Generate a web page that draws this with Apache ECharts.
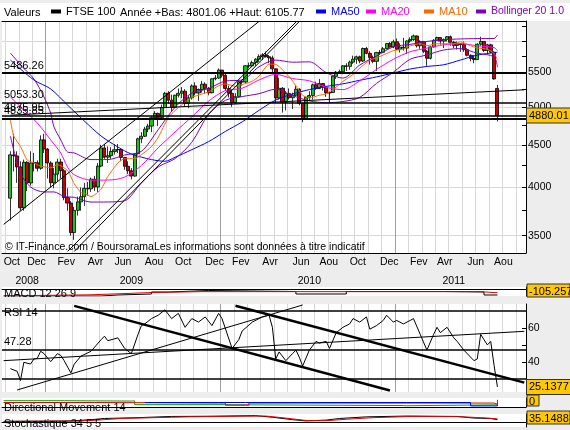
<!DOCTYPE html>
<html>
<head>
<meta charset="utf-8">
<script src="https://cdn.jsdelivr.net/npm/echarts@6/dist/echarts.min.js"></script>
<style>
html, body { margin: 0; padding: 0; background: #ededed; }
#chart { width: 570px; height: 430px; }
</style>
</head>
<body>
<div id="chart"></div>
<script>
var LEAD = 2;            // semaines vides avant la premiere bougie
var NB_SEMAINES = 156;
var POLICE = '"Liberation Sans", Arial, sans-serif';
var MOIS = ['Jan','Fev','Mar','Avr','Mai','Jun','Jul','Aou','Sep','Oct','Nov','Dec'];

// FTSE 100 hebdo a partir du 27/10/2008 : [ouverture, cloture, plus bas, plus haut]
var ftse = [
  [3883,4377,3650,4420],[4377,4364,4180,4640],[4364,4233,4050,4420],[4233,3781,3750,4300],[3781,4288,3750,4320],
  [4288,4049,3960,4300],[4049,4280,4020,4420],[4280,4283,4180,4400],[4283,4217,4180,4310],[4217,4562,4200,4620],
  [4562,4448,4400,4640],[4448,4280,4100,4460],[4280,4052,4000,4300],[4052,4149,3990,4220],[4149,4291,4070,4330],
  [4291,4189,4100,4330],[4189,3889,3860,4210],[3889,3830,3750,3990],[3830,3530,3500,3850],[3530,3754,3460,3790],
  [3754,3843,3700,3900],[3843,3898,3750,4000],[3898,3990,3800,4050],[3990,3984,3910,4060],[3984,4092,3950,4110],
  [4092,4004,3960,4130],[4004,4243,3950,4280],[4243,4461,4230,4500],[4461,4349,4330,4510],[4349,4367,4280,4480],
  [4367,4418,4330,4470],[4418,4439,4380,4510],[4439,4442,4400,4510],[4442,4345,4300,4460],[4345,4241,4200,4350],
  [4241,4189,4150,4300],[4189,4127,4090,4220],[4127,4391,4120,4400],[4391,4576,4380,4590],[4576,4608,4520,4660],
  [4608,4700,4600,4730],[4700,4740,4660,4770],[4740,4851,4660,4870],[4851,4909,4840,4940],[4909,4852,4740,4920],
  [4852,4989,4850,5030],[4989,5190,4980,5210],[5190,5092,5040,5220],[5092,4988,4940,5170],[4988,5162,4990,5170],
  [5162,5190,5130,5260],[5190,5220,5120,5280],[5220,5045,5010,5250],[5045,5125,4980,5160],[5125,5297,5100,5320],
  [5297,5194,5160,5350],[5194,5245,5080,5260],[5245,5322,5200,5370],[5322,5261,5180,5350],[5261,5197,5160,5280],
  [5197,5402,5190,5410],[5402,5413,5380,5460],[5413,5534,5400,5560],[5534,5455,5420,5530],[5455,5260,5230,5480],
  [5260,5189,5130,5300],[5189,5060,5000,5250],[5060,5142,5040,5190],[5142,5358,5130,5370],[5358,5355,5300,5390],
  [5355,5600,5340,5610],[5600,5600,5560,5650],[5600,5650,5580,5680],[5650,5703,5600,5720],[5703,5744,5660,5780],
  [5744,5770,5690,5800],[5770,5743,5730,5825],[5743,5723,5640,5770],[5723,5553,5500,5760],[5553,5123,5050,5560],
  [5123,5262,5100,5420],[5262,5063,4920,5280],[5063,5188,4950,5220],[5188,5126,5100,5260],[5126,5163,4970,5200],
  [5163,5250,5150,5300],[5250,5046,5020,5260],[5046,4838,4790,5060],[4838,5132,4830,5140],[5132,5159,5090,5220],
  [5159,5313,5100,5330],[5313,5258,5240,5360],[5258,5332,5250,5400],[5332,5276,5230,5340],[5276,5195,5140,5300],
  [5195,5201,5060,5210],[5201,5440,5200,5450],[5440,5502,5400,5520],[5502,5509,5480,5540],[5509,5599,5470,5610],
  [5599,5592,5520,5640],[5592,5657,5540,5680],[5657,5703,5630,5760],[5703,5741,5630,5760],[5741,5675,5640,5760],
  [5675,5875,5660,5890],[5875,5796,5780,5900],[5796,5732,5620,5830],[5732,5669,5640,5760],[5669,5808,5520,5820],
  [5808,5812,5770,5850],[5812,5871,5800,5900],[5871,5955,5860,5960],[5955,5900,5890,5980],[5900,5985,5880,6020],
  [5985,5863,5850,6040],[5863,5896,5810,5960],[5896,5881,5840,6050],[5881,5998,5790,6010],[5998,6021,5970,6060],
  [6021,6082,6000,6105],[6082,5919,5890,6090],[5919,5990,5870,6010],[5990,5829,5800,6000],[5829,5718,5600,5850],
  [5718,5900,5700,5910],[5900,6009,5890,6030],[6009,6055,6000,6070],[6055,5996,5940,6060],[5996,6022,5880,6040],
  [6022,6069,5990,6080],[6069,5976,5920,6090],[5976,5925,5880,6000],[5925,5948,5860,5990],[5948,5938,5820,5960],
  [5938,5855,5820,5990],[5855,5765,5750,5880],[5765,5714,5670,5780],[5714,5697,5640,5770],[5697,5945,5690,5960],
  [5945,5990,5920,6070],[5990,5843,5820,5990],[5843,5935,5780,5950],[5935,5815,5800,5950],[5815,5400,5390,5830],
  [5260,4880.01,4801.06,5310]
];

// moyennes et bandes : [semaine, valeur]
var ma50 = [[0,5690],[7,5384],[12,5252],[17,5024],[22,4807],[27,4611],[32,4473],[36,4387],[42,4320],[46,4300],[49,4347],[54,4440],[59,4540],[64,4670],[69,4795],[74,4950],[79,5094],[84,5180],[89,5243],[94,5290],[99,5327],[104,5380],[109,5430],[114,5490],[119,5550],[124,5590],[129,5616],[134,5690],[139,5768],[145,5814]];
var ma20 = [[0,5137],[4,4955],[8,4780],[12,4561],[15,4399],[17,4231],[19,4142],[24,4081],[29,4082],[34,4115],[39,4250],[44,4463],[49,4662],[54,4862],[59,5078],[64,5229],[69,5263],[74,5384],[79,5469],[84,5406],[89,5372],[94,5276],[99,5243],[104,5371],[109,5544],[114,5701],[119,5822],[124,5880],[129,5935],[134,5952],[139,5918],[144,5890],[145,5839]];
var ma10 = [[0,4820],[1,4610],[3,4480],[5,4315],[7,4280],[9,4243],[12,4224],[14,4261],[17,4191],[19,4041],[21,3943],[22,3936],[24,3900],[27,3980],[29,4123],[32,4280],[34,4331],[37,4331],[39,4378],[42,4477],[44,4594],[47,4851],[49,4947],[52,5064],[54,5130],[57,5179],[59,5210],[62,5299],[64,5328],[67,5291],[69,5317],[72,5367],[74,5440],[77,5625],[79,5621],[82,5487],[84,5371],[87,5161],[89,5123],[92,5162],[94,5180],[97,5281],[99,5363],[102,5467],[104,5562],[107,5688],[109,5725],[112,5793],[114,5840],[117,5864],[119,5918],[122,5954],[124,5920],[127,5952],[129,5952],[132,5950],[134,5984],[137,5921],[139,5883],[142,5863],[144,5796],[145,5698]];
var bollHaut = [[0,5800],[4,5560],[7,5400],[10,5137],[12,4910],[13,4727],[15,4561],[17,4412],[19,4400],[24,4320],[29,4320],[34,4375],[39,4420],[44,4693],[49,4992],[54,5192],[59,5258],[64,5369],[69,5383],[74,5584],[79,5689],[84,5656],[89,5662],[94,5496],[99,5413],[104,5611],[109,5754],[114,5901],[119,5942],[124,5990],[129,6020],[134,6032],[139,6038],[144,6040],[145,6099]];
var bollBas = [[0,4610],[3,4163],[6,4005],[10,3950],[13,3950],[16,3900],[19,3892],[24,3841],[29,3842],[34,3855],[39,4050],[44,4233],[49,4332],[54,4532],[59,4898],[64,5089],[69,5143],[74,5184],[79,5249],[84,5156],[89,5082],[94,5056],[99,5073],[104,5131],[109,5334],[114,5501],[119,5702],[124,5770],[129,5850],[134,5872],[139,5798],[144,5740],[145,5579]];

// indicateurs
var macd = [[-2,-450],[23,-450],[27,-383],[32,-317],[42,-183],[47,-83],[59,-150],[85,-317],[100,-150],[129,-183],[141,-383],[145,-383]];
var macdSignal = [[-2,-440],[24,-370],[42,-220],[57,-160],[140,-160],[144,-220],[145,-230]];
var rsi = [[0,36],[2,34.5],[3,28.9],[4,39.8],[6,38.8],[7,41.8],[8,42.2],[9,46.4],[10,45],[12,40.2],[14,45],[15,43.9],[16,40.8],[18,33.5],[19,38.7],[21,43.5],[24,46.4],[27,53.3],[28,55.4],[29,52.7],[32,54.4],[34,48.1],[36,45],[38,56.5],[39,61.7],[40,62.7],[42,65.9],[44,67.9],[46,71.1],[48,65.9],[50,69],[52,60.7],[54,65.9],[56,63.8],[58,66.9],[60,61.7],[62,69],[63,65.9],[66,48.1],[68,53.3],[69,58.5],[72,63.8],[75,66.9],[77,67.9],[78,60.7],[79,41.8],[80,46],[82,40.8],[84,45],[85,47.1],[86,42.9],[87,37.6],[89,47.1],[91,52.3],[92,51.3],[94,52.3],[95,48.1],[97,57.5],[99,60.7],[101,62.7],[102,65.9],[104,63.8],[106,66.9],[107,59.6],[109,61.7],[111,64.8],[112,67.9],[114,63.8],[115,64.8],[117,62.7],[119,64.8],[120,65.9],[122,56.5],[124,47.1],[126,56.5],[127,60.7],[128,57.5],[130,60.7],[132,54.4],[133,52.3],[135,47.1],[138,40.8],[139,41.8],[140,56.5],[141,53.3],[142,50.2],[143,52.3],[144,38],[145,25.1377]];
var dmPlus = [[-2,35],[16,33],[36,34],[37,13],[63,12],[71,8],[117,7],[118,12],[144,12],[145,20]];
var dmMoins = [[-2,25],[24,25],[25,22],[62,22],[64,10],[70,10],[71,22],[127,22],[144,15],[145,40]];
var adx = [[40,25],[62,25],[70,25],[118,25],[137,6],[145,12]];
var stochK = [[-2,10],[18,15],[24,30],[28,45],[38,55],[48,70],[58,72],[73,80],[78,60],[84,30],[88,15],[94,25],[98,45],[106,65],[118,75],[133,70],[138,50],[143,45],[145,30]];
var stochD = [[-2,8],[20,12],[26,25],[33,45],[43,55],[53,65],[68,72],[76,75],[82,50],[88,20],[94,18],[100,35],[108,55],[120,70],[133,68],[140,55],[145,40]];

// niveaux et droites tracees
var niveauxPrix = [[5486.26,'5486.26',2],[5053.30,'5053.30',1.5],[4875.95,'4875.95',1.5],[4835.85,'4835.85',2]];
var droitesPrix = [[[-2,3611],[74,6330],1],[[17,3350],[85,6320],1],[[19,3350],[86,6330],1],[[21,3350],[87,6340],1],[[0,4885],[153,5240],1]];
var niveauxRsi = [[70.6,'',1.5],[47.28,'47.28',1.5],[30.3,'',1.5]];
var droitesRsi = [[[19,73.5],[113,23.0],2.5],[[67,73.6],[153,27.7],2.5],[[2,23.3],[87,74.0],1],[[-2,40.8],[153,58.3],1]];

var prixTicks = [3500,3750,4000,4250,4500,4750,5000,5250,5500,5750,6000,6250];
var prixLabels = [3500,4000,4500,5000,5500];
var prixGrille = [3500,4000,4500,5000,5500,6000];
var rsiTicks = [40,50,60];
var rsiLabels = [40,60];
var anneesLabels = [[7,'2008'],[38,'2009'],[91,'2010'],[134,'2011']];
var lignesAnnee = [13,65,117];

// semaines (lundi) depuis le 13/10/2008
var semaines = [], moisSemaine = [];
var debut = Date.UTC(2008, 9, 13);
for (var k = 0; k < NB_SEMAINES; k++) {
  var d = new Date(debut + k * 7 * 86400000);
  semaines.push(d.getUTCFullYear() + '-' + (d.getUTCMonth() + 1) + '-' + d.getUTCDate());
  moisSemaine.push(d.getUTCMonth());
}
// un libelle tous les deux mois, seulement sur la periode cotee
var etiquettesMois = {};
for (var k = 0; k < LEAD + ftse.length; k++) {
  var m = moisSemaine[k];
  if ((k === 0 || m !== moisSemaine[k - 1]) && m % 2 === 1) etiquettesMois[k] = MOIS[m];
}
var etiquettesAnnee = {};
anneesLabels.forEach(function (a) { etiquettesAnnee[a[0]] = a[1]; });

function cat(arr) {
  return arr.map(function (p) { return [p[0] + LEAD, p[1]]; });
}
function droite(dr) {
  return [{coord: [dr[0][0] + LEAD, dr[0][1]], lineStyle: {color: '#000', width: dr[2], type: 'solid'}},
          {coord: [dr[1][0] + LEAD, dr[1][1]]}];
}
function niveau(n) {
  return {yAxis: n[0], lineStyle: {color: '#000', width: n[2], type: 'solid'},
    label: {show: n[1] !== '', formatter: n[1], position: 'insideStartTop', distance: 2,
      color: '#000', fontSize: 11, fontFamily: POLICE}};
}
function valeurJaune(v, txt) {
  return {yAxis: v, lineStyle: {color: 'transparent', width: 0},
    label: {show: true, position: 'end', distance: 1, formatter: txt, color: '#000',
      fontSize: 11, fontFamily: POLICE, backgroundColor: '#ffc800', borderColor: '#333',
      borderWidth: 1, padding: [2, 2, 1, 2]}};
}
function boite(x, y, w, h, txt) {
  return [
    {type: 'rect', shape: {x: x, y: y, width: w, height: h}, style: {fill: '#ffc800', stroke: '#333', lineWidth: 1}, z: 10},
    {type: 'text', x: x + 2, y: y + h / 2 + 1, z: 11,
      style: {text: txt, fill: '#000', fontSize: 11, fontFamily: POLICE, verticalAlign: 'middle'}}
  ];
}
function texte(x, y, txt, taille) {
  return {type: 'text', x: x, y: y, z: 9,
    style: {text: txt, fill: '#000', fontSize: taille || 11, fontFamily: POLICE, verticalAlign: 'middle'}};
}
function ligneSimple(nom, data, couleur, xi, yi, opts) {
  var s = {name: nom, type: 'line', xAxisIndex: xi, yAxisIndex: yi, data: cat(data), showSymbol: false,
    symbol: 'none', lineStyle: {color: couleur, width: 1}, itemStyle: {color: couleur}, silent: true};
  for (var o in (opts || {})) s[o] = opts[o];
  return s;
}
function entier(v) { return String(Math.round(v)); }

var grilleBase = {left: 2, right: 44, show: true, backgroundColor: '#fff', borderWidth: 0, outerBoundsMode: 'none', containLabel: false};
function grille(top, h) {
  var g = {}; for (var o in grilleBase) g[o] = grilleBase[o];
  g.top = top; g.height = h; return g;
}
function axeX(gi, opts) {
  var a = {type: 'category', gridIndex: gi, data: semaines, boundaryGap: true,
    axisLine: {show: false}, axisTick: {show: false}, axisLabel: {show: false}, splitLine: {show: false}};
  for (var o in (opts || {})) a[o] = opts[o];
  return a;
}
var noir = {show: true, lineStyle: {color: '#000', width: 1}};
var grilleClaire = {show: true, interval: function (i) { return i % 4 === 1 && lignesAnnee.indexOf(i) < 0; }, lineStyle: {color: '#d8d8d8', width: 1}};
var grilleFoncee = {show: true, interval: function (i) { return lignesAnnee.indexOf(i) >= 0; }, lineStyle: {color: '#a0a0a0', width: 1}};

var legendeBase = {top: 6, padding: 0, itemWidth: 10, itemHeight: 4, icon: 'rect', selectedMode: false};
function legende(left, nom, couleur, taille) {
  var l = {}; for (var o in legendeBase) l[o] = legendeBase[o];
  l.left = left;
  l.data = [{name: nom, itemStyle: {color: couleur, borderWidth: 0}}];
  l.textStyle = {fontSize: taille || 11, fontFamily: POLICE, color: nom === 'FTSE 100' ? '#000' : couleur};
  return l;
}

var chart = echarts.init(document.getElementById('chart'), null, {renderer: 'canvas'});
var option = {
  animation: false,
  backgroundColor: '#ededed',
  textStyle: {fontFamily: POLICE},
  legend: [
    legende(51, 'FTSE 100', '#000'),
    legende(316, 'MA50', '#0000ff'),
    legende(366, 'MA20', '#ff00ff'),
    legende(424, 'MA10', '#ff6600'),
    legende(476, 'Bollinger 20 1.0', '#8000c0', 10.5)
  ],
  grid: [grille(21, 232), grille(287, 9), grille(304, 88), grille(398, 9), grille(414, 13)],
  xAxis: [
    axeX(0, {position: 'bottom', axisLine: noir, splitLine: grilleClaire,
      axisLabel: {show: true, interval: function (i) { return etiquettesMois[i] !== undefined; },
        formatter: function (v, i) { return etiquettesMois[i] || ''; },
        align: 'left', margin: 4, fontSize: 10.5, color: '#000', fontFamily: POLICE}}),
    axeX(0, {position: 'bottom',
      axisLabel: {show: true, interval: function (i) { return etiquettesAnnee[i] !== undefined; },
        formatter: function (v, i) { return etiquettesAnnee[i] || ''; },
        margin: 23, fontSize: 10.5, color: '#000', fontFamily: POLICE}}),
    axeX(0, {position: 'top', axisLine: noir, splitLine: grilleFoncee}),
    axeX(1, {position: 'bottom', axisLine: noir}),
    axeX(2, {position: 'bottom', splitLine: grilleClaire}),
    axeX(2, {position: 'top', splitLine: grilleFoncee}),
    axeX(3, {position: 'bottom', axisLine: noir}),
    axeX(4, {position: 'bottom', axisLine: noir})
  ],
  yAxis: [
    {type: 'log', gridIndex: 0, position: 'right', min: 3336, max: 6339,
      axisLine: noir,
      axisTick: {show: true, inside: true, length: 4, customValues: prixTicks, lineStyle: {color: '#000'}},
      axisLabel: {show: true, customValues: prixLabels, formatter: entier, margin: 2, fontSize: 10.5, color: '#000', fontFamily: POLICE},
      splitLine: {show: false}},
    {type: 'log', gridIndex: 0, position: 'right', min: 3336, max: 6339,
      axisLine: {show: false}, axisTick: {show: false, customValues: prixGrille}, axisLabel: {show: false},
      splitLine: {show: true, lineStyle: {color: '#d8d8d8', width: 1}}},
    {type: 'value', gridIndex: 1, position: 'right', min: -450, max: 150,
      axisLine: noir, axisTick: {show: false}, axisLabel: {show: false}, splitLine: {show: false}},
    {type: 'value', gridIndex: 2, position: 'right', min: 22.1, max: 74.6,
      axisLine: noir,
      axisTick: {show: true, inside: true, length: 4, customValues: rsiTicks, lineStyle: {color: '#000'}},
      axisLabel: {show: true, customValues: rsiLabels, formatter: entier, margin: 2, fontSize: 10.5, color: '#000', fontFamily: POLICE},
      splitLine: {show: false}},
    {type: 'value', gridIndex: 3, position: 'right', min: 0, max: 50,
      axisLine: noir, axisTick: {show: false}, axisLabel: {show: false}, splitLine: {show: false}},
    {type: 'value', gridIndex: 4, position: 'right', min: -60, max: 100,
      axisLine: noir, axisTick: {show: false}, axisLabel: {show: false}, splitLine: {show: false}}
  ],
  series: [
    {name: 'FTSE 100', type: 'candlestick', xAxisIndex: 0, yAxisIndex: 0, silent: true,
      data: ftse.map(function (b, i) { return [i + LEAD, b[0], b[1], b[2], b[3]]; }),
      encode: {x: 0, y: [1, 2, 3, 4]},
      barWidth: 3.6,
      itemStyle: {color: '#1fbf1f', color0: '#cc0000', borderColor: '#000', borderColor0: '#000', borderWidth: 0.8},
      markLine: {silent: true, symbol: 'none', animation: false,
        data: niveauxPrix.map(niveau).concat(droitesPrix.map(droite)).concat([valeurJaune(4880.01, '4880.01')])}
    },
    ligneSimple('MA50', ma50, '#0000ff', 0, 0, {smooth: 0.3}),
    ligneSimple('MA20', ma20, '#ff00ff', 0, 0, {smooth: 0.3}),
    ligneSimple('MA10', ma10, '#ff6600', 0, 0, {smooth: 0.2}),
    ligneSimple('Bollinger 20 1.0', bollHaut, '#8000c0', 0, 0, {smooth: 0.3}),
    ligneSimple('Bollinger 20 1.0', bollBas, '#8000c0', 0, 0, {smooth: 0.3}),
    ligneSimple('MACD', macd, '#000', 3, 2, {step: 'end'}),
    ligneSimple('Signal', macdSignal, '#dd0000', 3, 2),
    ligneSimple('RSI 14', rsi, '#000', 4, 3, {
      markLine: {silent: true, symbol: 'none', animation: false,
        data: niveauxRsi.map(niveau).concat(droitesRsi.map(droite)).concat([valeurJaune(25.1377, '25.1377')])}}),
    ligneSimple('+DI', dmPlus, '#00a000', 6, 4, {step: 'end'}),
    ligneSimple('-DI', dmMoins, '#dd0000', 6, 4, {step: 'end'}),
    ligneSimple('ADX', adx, '#0000ff', 6, 4, {step: 'end'}),
    ligneSimple('%K', stochK, '#000', 7, 5),
    ligneSimple('%D', stochD, '#dd0000', 7, 5, {
      markLine: {silent: true, symbol: 'none', animation: false, label: {show: false},
        data: [{yAxis: 0, lineStyle: {color: '#000', width: 1, type: 'solid'}}]}})
  ],
  graphic: [
    {type: 'rect', shape: {x: 0, y: 3, width: 570, height: 18}, style: {fill: '#fff'}, z: -10},
    texte(4, 13, 'Valeurs'),
    texte(120, 13, 'Année +Bas: 4801.06 +Haut: 6105.77'),
    texte(5, 247, '© IT-Finance.com / BoursoramaLes informations sont données à titre indicatif', 10.5),
    texte(4, 294, 'MACD 12 26 9'),
    texte(4, 313, 'RSI 14'),
    texte(4, 408, 'Directional Movement 14'),
    texte(4, 424, 'Stochastique 34 5 5')
  ].concat(boite(527, 284, 43, 13, '-105.257'))
   .concat(boite(527, 395, 12, 11, '0'))
   .concat(boite(527, 411, 43, 13, '35.1488'))
};
chart.setOption(option);
</script>
</body>
</html>
